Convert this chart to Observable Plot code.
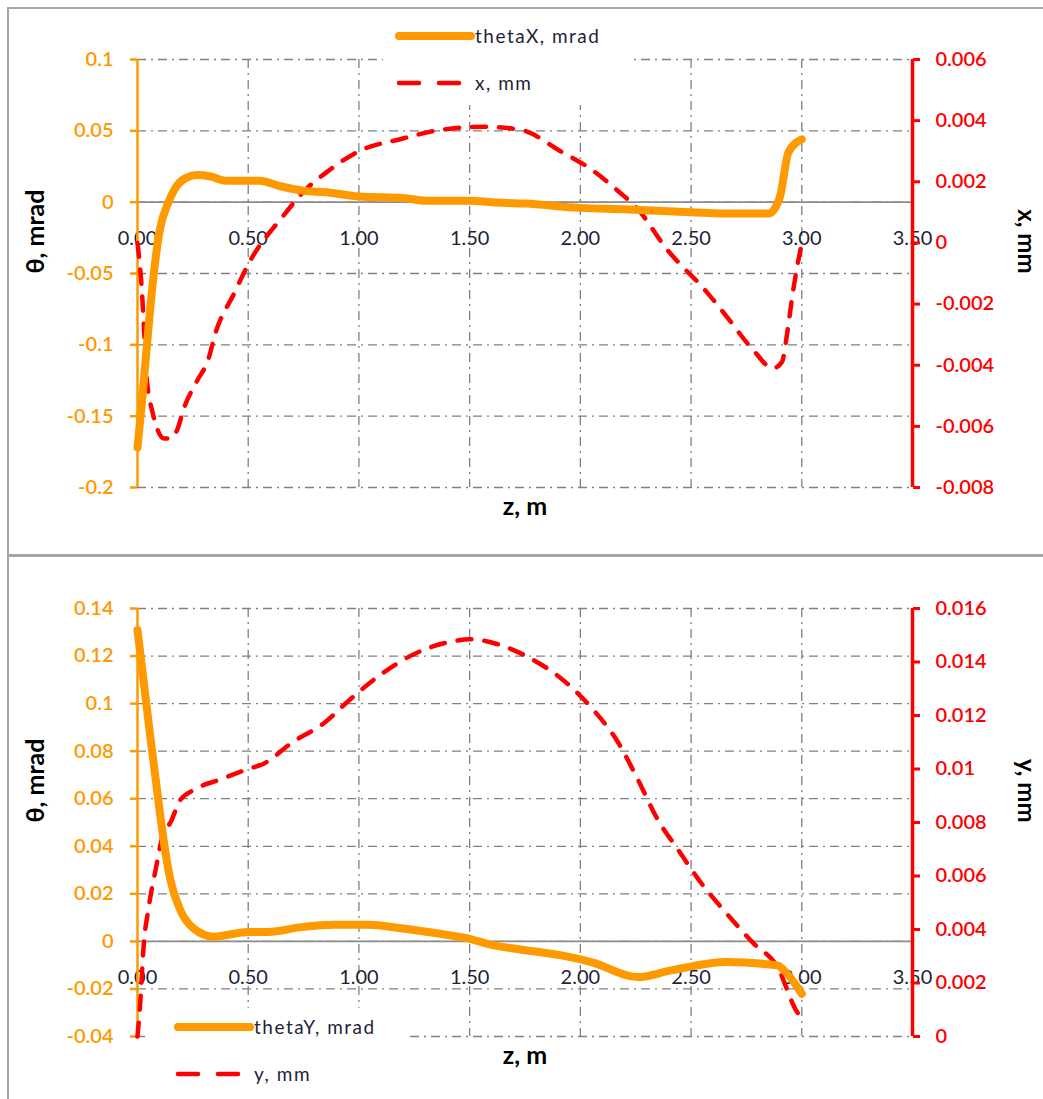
<!DOCTYPE html>
<html><head><meta charset="utf-8">
<script src="https://cdn.jsdelivr.net/npm/d3@7"></script>
<script src="https://cdn.jsdelivr.net/npm/@observablehq/plot@0.6"></script>
<style>
body{margin:0;background:#fff;font-family:Lato,"Open Sans",sans-serif}
#wrap{position:relative;width:1043px;height:1099px;overflow:hidden;background:#fff}
.panel{position:absolute;left:0;width:1043px}
.frame{position:absolute;border:2px solid #a6a6a6;box-sizing:border-box}
.legend{position:absolute;background:#fff}
.legend text{font-family:Lato,"Open Sans",sans-serif;font-size:19px;fill:#1f1f3a;letter-spacing:1.5px}
</style>
</head><body>
<div id="wrap">
  <div class="frame" style="left:7px;top:7px;width:1100px;height:549px"></div>
  <div class="frame" style="left:7px;top:555px;width:1100px;height:600px"></div>
  <div class="panel" id="p1" style="top:0px"></div>
  <div class="panel" id="p2" style="top:550px"></div>
  <div class="legend" id="l1" style="left:383px;top:12px;width:247px;height:93px"></div>
  <div class="legend" id="l2" style="left:145px;top:1008px;width:260px;height:91px"></div>
</div>
<script>
// ---- data ----
const zTicks = [0, 0.5, 1, 1.5, 2, 2.5, 3, 3.5];

// Top panel: thetaX (mrad) on left axis
const thetaXz = [0, 0.02, 0.04, 0.07, 0.10, 0.14, 0.18, 0.22, 0.27, 0.33, 0.40, 0.50, 0.55, 0.65, 0.75, 0.85, 1.00, 1.20, 1.30, 1.50, 1.60, 1.75, 2.00, 2.20, 2.50, 2.70, 2.85, 2.90, 2.94, 3.00];
const thetaXv = [-0.172, -0.14, -0.105, -0.055, -0.02, 0.0, 0.012, 0.017, 0.019, 0.018, 0.015, 0.015, 0.015, 0.011, 0.008, 0.007, 0.004, 0.003, 0.001, 0.001, 0.0, -0.001, -0.004, -0.005, -0.007, -0.008, -0.008, 0.003, 0.035, 0.044];
// Top panel: x (mm) on right axis
const xPosZ = [0, 0.02, 0.03, 0.04, 0.07, 0.09, 0.12, 0.15, 0.18, 0.21, 0.27, 0.32, 0.35, 0.44, 0.50, 0.66, 0.74, 0.87, 1.00, 1.19, 1.37, 1.56, 1.73, 1.91, 2.05, 2.17, 2.26, 2.39, 2.57, 2.66, 2.78, 2.87, 2.91, 2.935, 2.96, 3.00];
const xPosV = [0.0, -0.0016, -0.0029, -0.0043, -0.0056, -0.0061, -0.0064, -0.0064, -0.0061, -0.0054, -0.0045, -0.0038, -0.0030, -0.0016, -0.0007, 0.0009, 0.0016, 0.0024, 0.0030, 0.0034, 0.0037, 0.0038, 0.0037, 0.0030, 0.0024, 0.0017, 0.0011, -0.0002, -0.0016, -0.0024, -0.0035, -0.0041, -0.0039, -0.0029, -0.0016, 0.0];
const thetaXTicks = [-0.2, -0.15, -0.1, -0.05, 0, 0.05, 0.1];
const xPosTicks = [-0.008, -0.006, -0.004, -0.002, 0, 0.002, 0.004, 0.006];

// Bottom panel: thetaY (mrad) on left axis
const thetaYz = [0, 0.05, 0.104, 0.118, 0.149, 0.194, 0.253, 0.345, 0.50, 0.59, 0.74, 0.89, 1.04, 1.19, 1.38, 1.49, 1.61, 1.73, 1.92, 2.05, 2.26, 2.41, 2.66, 2.89, 2.92, 3.00];
const thetaYv = [0.131, 0.092, 0.052, 0.0425, 0.0257, 0.013, 0.0055, 0.002, 0.004, 0.004, 0.006, 0.007, 0.007, 0.0055, 0.003, 0.0013, -0.0017, -0.0034, -0.006, -0.0087, -0.015, -0.0122, -0.0087, -0.0101, -0.0122, -0.022];
// Bottom panel: y (mm) on right axis
const yPosZ = [0, 0.014, 0.027, 0.05, 0.081, 0.117, 0.149, 0.19, 0.25, 0.37, 0.50, 0.57, 0.70, 0.84, 0.96, 1.11, 1.25, 1.41, 1.50, 1.64, 1.76, 1.94, 2.06, 2.17, 2.26, 2.35, 2.44, 2.54, 2.66, 2.78, 2.89, 2.98, 3.00];
const yPosV = [0.0, 0.00146, 0.0033, 0.0048, 0.0062, 0.0076, 0.0080, 0.0088, 0.0092, 0.0096, 0.0100, 0.0102, 0.0110, 0.0117, 0.0126, 0.0136, 0.0143, 0.01475, 0.01485, 0.01463, 0.0142, 0.0132, 0.0122, 0.0110, 0.0096, 0.0081, 0.0070, 0.0058, 0.0046, 0.0035, 0.0026, 0.0009, 0.0007];
const thetaYTicks = [-0.04, -0.02, 0, 0.02, 0.04, 0.06, 0.08, 0.1, 0.12, 0.14];
const yPosTicks = [0, 0.002, 0.004, 0.006, 0.008, 0.01, 0.012, 0.014, 0.016];

const ORANGE = "#FF9900";
const RED = "#FF0000";
const FONT = 'Lato, "Open Sans", sans-serif';
const fmt = d => { const s = String(+(+d).toFixed(5)); return s === "-0" ? "0" : s; };

function panel(o) {
  const [t0, t1] = o.tDom, [p0, p1] = o.pDom;
  const toT = v => t0 + (v - p0) / (p1 - p0) * (t1 - t0);
  const fromT = t => p0 + (t - t0) / (t1 - t0) * (p1 - p0);
  const tData = o.tz.map((z, i) => ({z, v: o.tv[i]}));
  const pData = o.pz.map((z, i) => ({z, v: toT(o.pv[i])}));
  return Plot.plot({
    width: 1043, height: o.height,
    marginLeft: 137, marginRight: 131, marginTop: o.mt, marginBottom: o.mb,
    x: {domain: [0, 3.5], axis: null},
    y: {domain: o.tDom, axis: null},
    style: {fontFamily: FONT, background: "transparent", overflow: "visible"},
    marks: [
      Plot.gridY(o.tTicks, {stroke: "#808080", strokeOpacity: 1, strokeWidth: 1.3, strokeDasharray: "9,5,2,5"}),
      Plot.gridX(zTicks.slice(1), {stroke: "#808080", strokeOpacity: 1, strokeWidth: 1.3, strokeDasharray: "9,5,2,5"}),
      Plot.ruleY([0], {stroke: "#8c8c8c", strokeWidth: 1.6}),
      Plot.text(zTicks, {x: d => d, y: () => 0, dy: 36, text: d => d.toFixed(2), fill: "#1f1f3a", fontSize: 20, letterSpacing: 1.5}),
      Plot.ruleX([0], {stroke: ORANGE, strokeWidth: 2.5}),
      Plot.ruleX([3.5], {stroke: RED, strokeWidth: 3.5}),
      Plot.axisY(o.tTicks, {anchor: "left", stroke: ORANGE, fill: ORANGE, strokeWidth: 2.5, tickSize: 7, tickPadding: 17, tickFormat: fmt, fontSize: 20, fontWeight: 600, letterSpacing: 1.2, label: null}),
      Plot.axisY(o.pTicks.map(toT), {anchor: "right", stroke: RED, fill: RED, strokeWidth: 3, tickSize: 7, tickPadding: 16, tickFormat: t => fmt(fromT(t)), fontSize: 20, fontWeight: 600, letterSpacing: 1.2, label: null}),
      Plot.line(pData, {x: "z", y: "v", stroke: RED, strokeWidth: 4.5, strokeDasharray: "14,13", strokeLinecap: "round", curve: "monotone-x"}),
      Plot.line(tData, {x: "z", y: "v", stroke: ORANGE, strokeWidth: 8, strokeLinejoin: "round", strokeLinecap: "round", curve: "monotone-x"}),
      Plot.text(["θ, mrad"], {frameAnchor: "left", dx: -102, rotate: -90, fontSize: 25, fontWeight: "bold", fill: "#000"}),
      Plot.text([o.pLabel], {frameAnchor: "right", dx: 113, rotate: 90, fontSize: 24, fontWeight: "bold", fill: "#000"}),
      Plot.text(["z, m"], {frameAnchor: "bottom", dy: 27, fontSize: 25, fontWeight: "bold", fill: "#000"})
    ]
  });
}

document.getElementById("p1").append(panel({
  tz: thetaXz, tv: thetaXv, pz: xPosZ, pv: xPosV,
  tDom: [-0.2, 0.1], pDom: [-0.008, 0.006],
  tTicks: thetaXTicks, pTicks: xPosTicks, pLabel: "x, mm",
  height: 550, mt: 59, mb: 63
}));
document.getElementById("p2").append(panel({
  tz: thetaYz, tv: thetaYv, pz: yPosZ, pv: yPosV,
  tDom: [-0.04, 0.14], pDom: [0, 0.016],
  tTicks: thetaYTicks, pTicks: yPosTicks, pLabel: "y, mm",
  height: 549, mt: 58, mb: 63
}));

function legend(el, x0, items) {
  const w = parseFloat(el.style.width), h = parseFloat(el.style.height);
  const svg = d3.select(el).append("svg").attr("width", w).attr("height", h);
  items.forEach(it => {
    const g = svg.append("g");
    g.append("line").attr("x1", x0).attr("x2", x0 + 72).attr("y1", it.y).attr("y2", it.y)
      .attr("stroke", it.color).attr("stroke-width", it.dash ? 4.5 : 8).attr("stroke-linecap", "round")
      .attr("stroke-dasharray", it.dash ? "20,20" : null);
    g.append("text").attr("x", x0 + 76).attr("y", it.y).attr("dy", "0.35em").text(it.label);
  });
}
legend(document.getElementById("l1"), 16, [
  {y: 24, color: ORANGE, dash: false, label: "thetaX, mrad"},
  {y: 71, color: RED, dash: true, label: "x, mm"}
]);
legend(document.getElementById("l2"), 33, [
  {y: 19, color: ORANGE, dash: false, label: "thetaY, mrad"},
  {y: 66, color: RED, dash: true, label: "y, mm"}
]);
</script>
</body></html>
